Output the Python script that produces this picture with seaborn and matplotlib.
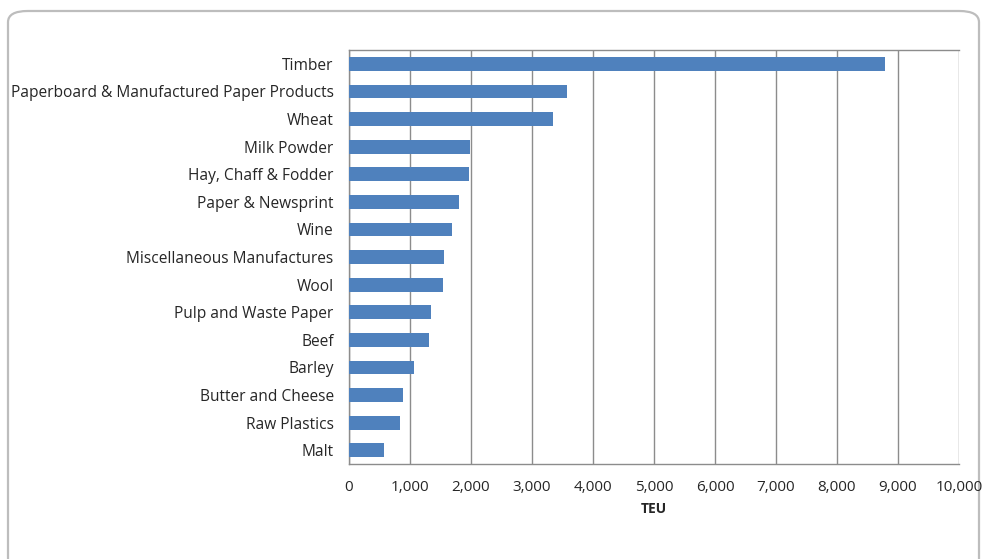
import matplotlib
matplotlib.use("Agg")
import matplotlib.pyplot as plt
import seaborn as sns
import pandas as pd
import numpy as np
from matplotlib.patches import FancyBboxPatch

categories = ["Timber", "Paperboard & Manufactured Paper Products", "Wheat", "Milk Powder",
              "Hay, Chaff & Fodder", "Paper & Newsprint", "Wine", "Miscellaneous Manufactures",
              "Wool", "Pulp and Waste Paper", "Beef", "Barley", "Butter and Cheese",
              "Raw Plastics", "Malt"]
teu = [8780, 3575, 3345, 1983, 1965, 1808, 1693, 1555, 1535, 1352, 1307, 1068, 888, 833, 568]
xticks = [0, 1000, 2000, 3000, 4000, 5000, 6000, 7000, 8000, 9000, 10000]
xticklabels = ["0", "1,000", "2,000", "3,000", "4,000", "5,000", "6,000", "7,000", "8,000", "9,000", "10,000"]

df = pd.DataFrame({"Category": categories, "TEU": teu})

sns.set_theme(style="white")
plt.rcParams["font.family"] = ["Open Sans", "DejaVu Sans"]

W, H = 985, 559
fig = plt.figure(figsize=(W / 100, H / 100), dpi=100)
fig.patch.set_facecolor("white")

# rounded frame around chart (top at 11px, bottom cut off by figure edge)
frame = FancyBboxPatch((8 / W, -30 / H), (979 - 8) / W, (H - 11 + 30) / H,
                       boxstyle="round,pad=0,rounding_size=0.02",
                       transform=fig.transFigure, facecolor="none",
                       edgecolor="#BDBDBD", linewidth=1.6, zorder=-1)
fig.patches.append(frame)

left, right, top, bottom = 349, 959, 50, 464
ax = fig.add_axes([left / W, (H - bottom) / H, (right - left) / W, (bottom - top) / H])
ax.set_facecolor("none")
ax.set_zorder(2)

sns.barplot(data=df, x="TEU", y="Category", orient="h", color="#4F81BD",
            width=0.5, ax=ax, saturation=1, zorder=3, linewidth=0)

ax.set_xlim(0, 10000)
ax.set_ylim(len(categories) - 0.5, -0.5)
ax.set_xticks(xticks)
ax.set_xticklabels(xticklabels, fontsize=11, color="#262626")
ax.grid(axis="x", color="#8C8C8C", linewidth=1.0, zorder=0)
ax.set_axisbelow(True)

ax.tick_params(axis="y", which="major", length=0, labelsize=11.2, labelcolor="#262626", pad=11)
ax.set_yticks(np.arange(-0.5, len(categories), 1.0), minor=True)
ax.tick_params(axis="y", which="minor", length=6, width=1, color="#8C8C8C", direction="out")
ax.tick_params(axis="x", length=0, pad=11.5)

for s in ["left", "bottom", "top"]:
    ax.spines[s].set_color("#8C8C8C")
    ax.spines[s].set_linewidth(1.0)
ax.spines["right"].set_visible(False)

ax.set_ylabel("")
ax.set_xlabel("TEU", fontsize=10, fontweight="bold", color="#262626", labelpad=5)

fig.savefig("out.png", dpi=100, facecolor="white")
